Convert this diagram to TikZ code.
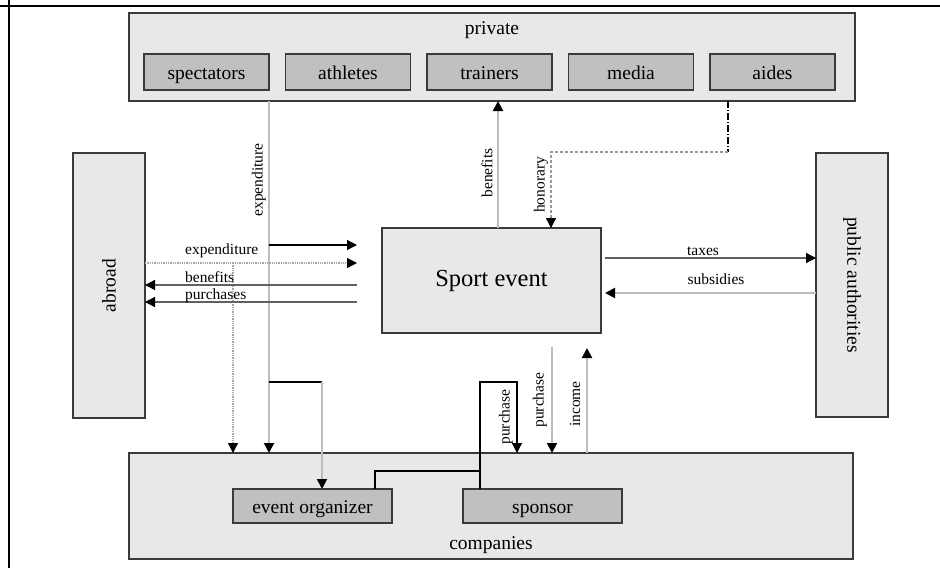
\documentclass[tikz,border=0pt]{standalone}
\usepackage{fontspec}
\setmainfont{Liberation Serif}
\usetikzlibrary{arrows.meta}
\definecolor{outerfill}{HTML}{E8E8E8}
\definecolor{innerfill}{HTML}{C0C0C0}
\definecolor{edge}{HTML}{3A3A3A}
\definecolor{flowgrey}{HTML}{BDBDBD}
\tikzset{
  panel/.style={draw=edge, line width=1.3pt, fill=outerfill, inner sep=0pt, outer sep=0pt},
  actor/.style={draw=edge, line width=1.3pt, fill=innerfill, inner sep=0pt, outer sep=0pt,
    minimum width=125pt, minimum height=36pt, text height=14pt, text depth=0pt,
    font=\fontsize{19.5}{22}\selectfont},
  bigtext/.style={font=\fontsize{19.5}{22}\selectfont, inner sep=0pt},
  flowtext/.style={font=\fontsize{15.5}{17}\selectfont, inner sep=0pt},
  vflow/.style={flowtext, rotate=90},
  tip/.style={-{Triangle[length=10pt,width=10pt,color=black]}},
  blackflow/.style={draw=black, line width=1.2pt},
  greyflow/.style={draw=flowgrey, line width=2pt},
  darkflow/.style={draw=edge!80, line width=1.3pt},
  dotflow/.style={draw=gray!70, line width=1.3pt, densely dotted},
}
\begin{document}
\begin{tikzpicture}[x=1pt, y=-1pt]
\useasboundingbox (0,0) rectangle (940,568);
\fill[white] (0,0) rectangle (940,568);

% page frame
\draw[line width=2.5pt] (0,6) -- (940,6);
\draw[line width=2.5pt] (9,0) -- (9,568);

% private sector
\node[panel, minimum width=726pt, minimum height=88pt] (priv) at (492,57) {};
\node[bigtext] (privlabel) at (492,30) {private};
\node[actor] (spectators) at (206.5,72) {spectators};
\node[actor] (athletes)   at (348,72)   {athletes};
\node[actor] (trainers)   at (489.5,72) {trainers};
\node[actor] (media)      at (631,72)   {media};
\node[actor] (aides)      at (772.5,72) {aides};

% abroad, public authorities, event
\node[panel, minimum width=72pt, minimum height=265pt] (abroad) at (109,285.5) {};
\node[bigtext, rotate=90] (abroadlabel) at (abroad.center) {abroad};
\node[panel, minimum width=72pt, minimum height=264pt] (pub) at (852,285) {};
\node[bigtext, rotate=-90] (publabel) at (pub.center) {public authorities};
\node[panel, minimum width=219pt, minimum height=105pt,
      font=\fontsize{24.5}{28}\selectfont] (sport) at (491.5,280.5) {Sport event};

% companies
\node[panel, minimum width=724pt, minimum height=106pt] (comp) at (491,506) {};
\node[bigtext] (complabel) at (491,545) {companies};
\node[actor, minimum width=159pt, minimum height=34pt] (evorg) at (312.5,506) {event organizer};
\node[actor, minimum width=159pt, minimum height=34pt] (sponsor) at (542.5,506) {sponsor};

% free ends of the flows beside the event box
\coordinate (leftend)  at (357,0);
\coordinate (rightend) at (605,0);
\coordinate (spendx)   at (269,0);
\coordinate (orgx)     at (322,0);
\coordinate (benx)     at (498,0);
\coordinate (honx)     at (551,0);
\coordinate (aidx)     at (728,0);
\coordinate (orgjoin)  at (375,0);
\coordinate (sponx)    at (480,0);
\coordinate (buyx)     at (517,0);
\coordinate (evbuyx)   at (552,0);
\coordinate (incx)     at (587,0);

% spending of the private sector
\draw[greyflow, tip] (spendx |- priv.south) -- (spendx |- comp.north);
\draw[blackflow] (spendx |- 0,382) -- (orgx |- 0,382);
\draw[greyflow, tip] (orgx |- 0,382) -- (orgx |- evorg.north);
\draw[blackflow, tip] (spendx |- 0,245) -- (leftend |- 0,245);
\node[vflow] (spendlabel) at (259,180) {expenditure};

% flows with abroad
\draw[dotflow, tip] (abroad.east |- 0,263) -- (leftend |- 0,263);
\draw[dotflow, tip] (evorg.west |- 0,263) -- (evorg.west |- comp.north);
\draw[darkflow, tip] (leftend |- 0,285) -- (abroad.east |- 0,285);
\draw[darkflow, tip] (leftend |- 0,302) -- (abroad.east |- 0,302);
\node[flowtext, anchor=west] (abrspend) at (185,251) {expenditure};
\node[flowtext, anchor=west] (abrben)   at (185,277) {benefits};
\node[flowtext, anchor=west] (abrbuy)   at (185,296) {purchases};

% benefits and honorary
\draw[greyflow, tip] (benx |- sport.north) -- (benx |- priv.south);
\node[vflow] (benlabel) at (487,173) {benefits};
\draw[draw=black, line width=1.2pt, dash pattern=on 7pt off 2pt on 1pt off 2pt]
  (aidx |- priv.south) -- (aidx |- 0,152);
\draw[draw=gray!80, line width=1.3pt, densely dashed, tip]
  (aidx |- 0,152) -- (honx |- 0,152) -- (honx |- sport.north);
\node[vflow] (honlabel) at (541,185) {honorary};

% public authorities
\draw[darkflow, tip] (rightend |- 0,258) -- (pub.west |- 0,258);
\draw[greyflow, tip] (pub.west |- 0,293) -- (rightend |- 0,293);
\node[flowtext] (taxlabel) at (703,251) {taxes};
\node[flowtext] (sublabel) at (716,279) {subsidies};

% companies and the event
\draw[blackflow] (orgjoin |- evorg.north) -- (orgjoin |- 0,471) -- (sponx |- 0,471);
\draw[blackflow, tip] (sponx |- sponsor.north) -- (sponx |- 0,382) -- (buyx |- 0,382) -- (buyx |- comp.north);
\node[vflow] (buylabel) at (506,417) {purchase};
\draw[greyflow, tip] (evbuyx |- 0,347) -- (evbuyx |- comp.north);
\node[vflow] (evbuylabel) at (540,400) {purchase};
\draw[greyflow, tip] (incx |- comp.north) -- (incx |- 0,348);
\node[vflow] (inclabel) at (575,404) {income};
\end{tikzpicture}
\end{document}
